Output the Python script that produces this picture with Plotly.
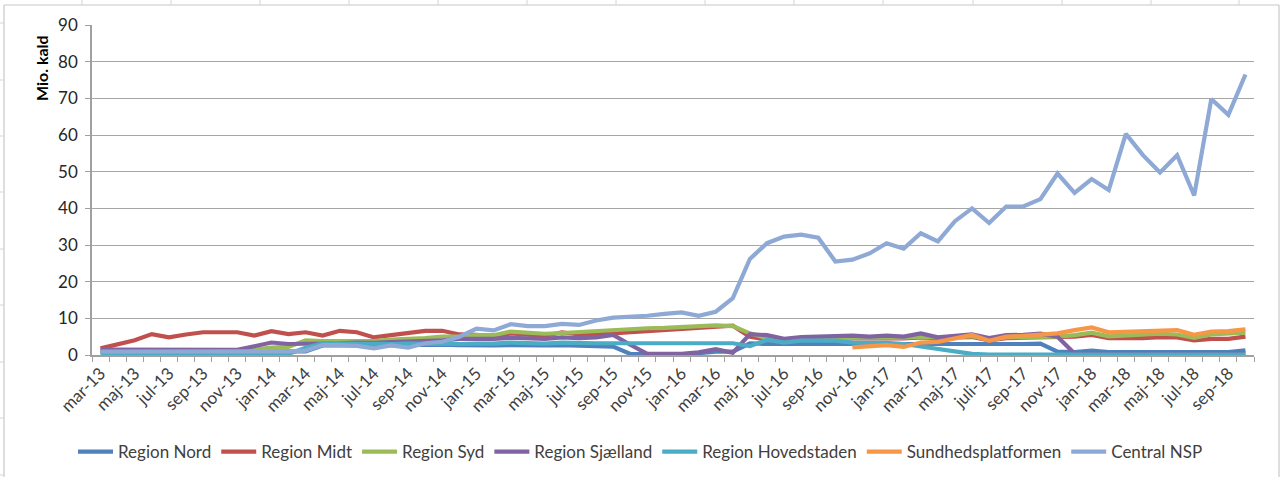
import plotly.graph_objects as go

months = ["mar-13","apr-13","maj-13","jun-13","jul-13","aug-13","sep-13","okt-13","nov-13","dec-13",
          "jan-14","feb-14","mar-14","apr-14","maj-14","jun-14","jul-14","aug-14","sep-14","okt-14","nov-14","dec-14",
          "jan-15","feb-15","mar-15","apr-15","maj-15","jun-15","jul-15","aug-15","sep-15","okt-15","nov-15","dec-15",
          "jan-16","feb-16","mar-16","apr-16","maj-16","jun-16","jul-16","aug-16","sep-16","okt-16","nov-16","dec-16",
          "jan-17","feb-17","mar-17","apr-17","maj-17","jun-17","juli-17","aug-17","sep-17","okt-17","nov-17","dec-17",
          "jan-18","feb-18","mar-18","apr-18","maj-18","jun-18","jul-18","aug-18","sep-18","okt-18"]

region_nord = [0.9,0.9,0.9,0.9,0.9,0.9,0.9,0.9,0.9,0.9,
               0.9,0.9,1.0,2.6,2.7,2.7,2.6,2.7,2.7,2.7,2.8,2.7,
               2.6,2.6,2.7,2.6,2.6,2.7,2.6,2.6,2.3,0.3,0.2,0.2,
               0.2,0.5,0.9,0.9,3.2,3.0,3.0,3.0,3.0,3.0,3.0,3.0,
               3.0,3.0,3.0,3.0,3.0,3.0,2.8,3.0,3.0,3.1,0.9,0.8,
               1.2,0.8,0.8,0.8,0.8,0.8,0.8,0.8,0.8,1.3]

region_midt = [1.8,2.8,4.0,5.7,4.8,5.6,6.2,6.2,6.2,5.3,
               6.5,5.7,6.2,5.3,6.6,6.2,4.8,5.4,5.9,6.6,6.6,5.6,
               5.5,5.0,5.9,5.6,5.2,6.2,5.6,5.6,5.9,6.4,6.6,6.8,
               7.1,7.4,7.7,8.0,5.0,4.2,3.8,4.2,4.3,4.5,4.5,4.6,
               4.6,4.5,4.8,4.6,4.8,4.9,4.0,4.6,4.7,4.8,4.9,5.0,
               5.5,4.6,4.6,4.6,4.9,4.8,4.0,4.4,4.4,5.0]

region_syd = [1.0,1.0,1.0,1.0,1.0,1.0,1.0,1.0,1.0,1.5,
              2.0,2.2,4.0,3.8,3.8,3.9,3.8,4.2,4.3,4.6,5.0,5.0,
              5.4,5.4,6.4,6.1,5.8,6.0,6.3,6.4,6.8,7.0,7.3,7.4,
              7.7,7.9,8.1,7.9,5.9,4.6,4.2,4.5,4.6,4.7,4.7,4.8,
              4.8,4.7,5.0,4.8,5.0,5.1,4.2,4.8,4.9,5.0,5.0,5.4,
              6.1,5.1,5.4,5.6,5.8,5.6,4.7,5.6,5.9,6.1]

region_sjaelland = [1.5,1.5,1.5,1.5,1.4,1.3,1.3,1.4,1.4,2.4,
                    3.4,3.0,3.0,3.1,3.2,3.4,3.3,3.5,3.6,3.7,4.0,4.4,
                    4.3,4.4,4.7,4.5,4.4,4.8,4.6,4.8,5.5,2.8,0.3,0.3,
                    0.3,0.7,1.6,0.6,5.7,5.4,4.4,4.9,5.0,5.0,5.3,5.0,
                    5.3,5.0,5.9,4.8,5.3,5.6,4.6,5.4,5.5,5.8,5.0,0.4,
                    0.4,0.4,0.4,0.4,0.4,0.4,0.4,0.4,0.4,0.4]

region_hovedstaden = [0.3,0.3,0.3,0.3,0.3,0.3,0.3,0.3,0.3,0.3,
                      0.3,0.3,2.0,3.2,3.1,3.0,3.0,3.0,3.1,3.0,3.0,3.0,
                      3.1,3.1,3.4,3.2,3.1,3.4,3.2,3.2,3.2,3.2,3.2,3.2,
                      3.2,3.2,3.2,3.2,2.4,4.1,3.4,3.9,3.9,3.9,3.4,3.4,
                      3.3,3.0,2.3,1.5,1.0,0.3,0.1,0.1,0.1,0.1,0.1,0.1,
                      0.1,0.1,0.1,0.1,0.1,0.1,0.1,0.1,0.1,0.1]

sundhedsplatformen = [None]*44 + [2.1,2.5,
                      2.7,2.2,3.4,3.6,4.5,5.5,3.9,5.0,5.2,5.5,5.9,6.8,
                      7.5,6.2,6.4,6.4,6.8,6.8,5.5,6.4,6.5,7.0]

central_nsp = [0.9,0.9,0.9,0.9,0.9,0.9,0.9,0.9,0.9,0.9,
               1.0,1.0,1.2,2.7,2.7,2.5,1.8,2.6,2.0,3.2,3.6,5.0,
               7.2,6.7,8.4,7.9,7.9,8.5,8.2,9.4,10.2,10.4,10.7,11.2,
               11.6,10.7,11.8,15.5,26.2,30.5,32.3,32.8,32.0,25.5,26.0,27.7,
               30.5,29.0,33.2,31.0,36.5,40.0,36.0,40.5,40.5,42.5,49.5,44.2,
               48.0,45.0,60.3,54.5,49.8,54.5,43.5,69.8,65.5,76.5]

series = [
    ("Region Nord", region_nord, "#4F81BD"),
    ("Region Midt", region_midt, "#C0504D"),
    ("Region Syd", region_syd, "#9BBB59"),
    ("Region Sjælland", region_sjaelland, "#8064A2"),
    ("Region Hovedstaden", region_hovedstaden, "#4BACC6"),
    ("Sundhedsplatformen", sundhedsplatformen, "#F79646"),
    ("Central NSP", central_nsp, "#8EA9D5"),
]

fig = go.Figure()
for name, vals, color in series:
    fig.add_trace(go.Scatter(x=months, y=vals, name=name, mode="lines",
                             line=dict(color=color, width=4.2, shape="linear"),
                             connectgaps=False))

W, H = 1283, 477
L, R, T, B = 92, 1254, 25, 355

def px(x):
    return (x - L) / (R - L)

def py(y):
    return (B - y) / (B - T)

shapes = []
border = "#c8c8c8"
shapes.append(dict(type="line", xref="paper", yref="paper", x0=px(4), x1=px(4), y0=py(5), y1=py(480),
                   line=dict(color=border, width=1.2)))
shapes.append(dict(type="line", xref="paper", yref="paper", x0=px(4), x1=px(1279), y0=py(5), y1=py(5),
                   line=dict(color=border, width=1.2)))
shapes.append(dict(type="line", xref="paper", yref="paper", x0=px(1279), x1=px(1279), y0=py(5), y1=py(480),
                   line=dict(color=border, width=1.2)))
for cx in [82, 171, 260, 349, 438, 527, 616, 705, 794, 883, 973, 1062, 1151, 1239]:
    shapes.append(dict(type="line", xref="paper", yref="paper", x0=px(cx), x1=px(cx), y0=py(0), y1=py(5),
                       line=dict(color="#d4d4d4", width=1)))
for ry in [23, 80, 136, 192, 249, 305, 362, 418, 475]:
    shapes.append(dict(type="line", xref="paper", yref="paper", x0=px(0), x1=px(4), y0=py(ry), y1=py(ry),
                       line=dict(color="#d4d4d4", width=1)))

fig.update_layout(
    width=W, height=H,
    margin=dict(l=L, r=W - R, t=T, b=H - B, autoexpand=False),
    paper_bgcolor="white", plot_bgcolor="white",
    font=dict(family="Lato, 'Open Sans', sans-serif", size=17, color="#404040"),
    showlegend=True,
    legend=dict(orientation="h", x=px(73), xanchor="left", y=py(452), yanchor="middle",
                font=dict(size=17, color="#404040"), itemwidth=35, tracegroupgap=0,
                bgcolor="rgba(0,0,0,0)"),
    shapes=shapes,
    annotations=[dict(text="<b>Mio. kald</b>", textangle=-90, xref="paper", yref="paper",
                      x=px(42), y=py(68), xanchor="center", yanchor="middle", showarrow=False,
                      font=dict(size=16, color="#000000"))],
    xaxis=dict(type="category", categoryorder="array", categoryarray=months,
               range=[-0.5, len(months) - 0.5],
               tickmode="linear", tick0=0, dtick=1, ticklabelstep=2,
               tickson="boundaries", ticks="outside", ticklen=5, tickcolor="#a0a0a0", tickwidth=1,
               tickangle=-45, tickfont=dict(size=17, color="#404040"),
               showgrid=False, showline=True, linecolor="#a0a0a0", linewidth=1.5,
               zeroline=False, fixedrange=True),
    yaxis=dict(range=[0, 90], tickmode="linear", tick0=0, dtick=10,
               ticks="outside", ticklen=5, tickcolor="#a0a0a0", ticklabelstandoff=4,
               showgrid=True, gridcolor="#a6a6a6", gridwidth=1.3,
               showline=True, linecolor="#a0a0a0", linewidth=1.5,
               zeroline=False, tickfont=dict(size=17, color="#262626"), fixedrange=True),
)

fig.write_html("out.html", post_script="document.body.style.margin='0';",
               config={"displayModeBar": False})
